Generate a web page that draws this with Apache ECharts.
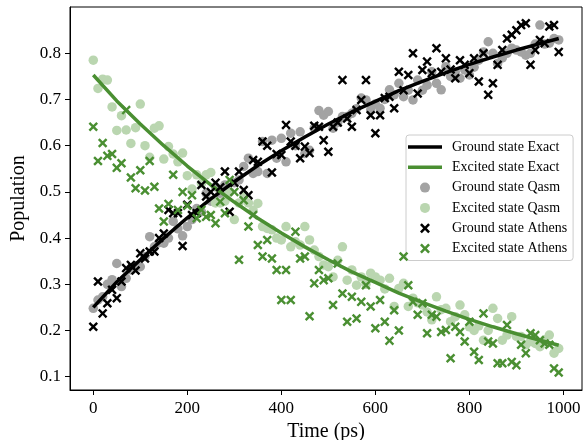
<!DOCTYPE html>
<html>
<head>
<meta charset="utf-8">
<script src="https://cdn.jsdelivr.net/npm/echarts@6/dist/echarts.min.js"></script>
<style>
html,body{margin:0;padding:0;background:#fff;}
#chart{width:588px;height:440px;}
</style>
</head>
<body>
<div id="chart"></div>
<script>
// ---- data ----
const times = Array.from({length: 100}, (_, i) => i * 10); // 0..990 ps sample times
const exactTimes = [0,50,100,150,200,250,300,350,400,450,500,550,600,650,700,750,800,850,900,950,990];
const groundExact = [0.25,0.305,0.353,0.40,0.444,0.485,0.522,0.557,0.589,0.619,0.647,0.673,0.696,0.719,0.739,0.758,0.776,0.792,0.807,0.821,0.832];
const excitedExact = [0.753,0.697,0.647,0.60,0.556,0.515,0.478,0.443,0.411,0.381,0.353,0.327,0.304,0.281,0.261,0.242,0.224,0.208,0.193,0.179,0.168];

const groundQasm = [
0.248,0.266,0.273,0.300,0.310,0.345,0.295,0.313,0.331,0.340,
0.338,0.360,0.403,0.381,0.390,0.389,0.400,0.436,0.420,0.405,
0.425,0.440,0.464,0.457,0.497,0.480,0.511,0.497,0.515,0.500,
0.520,0.526,0.555,0.573,0.540,0.544,0.609,0.540,0.612,0.573,
0.616,0.565,0.627,0.600,0.630,0.583,0.590,0.638,0.676,0.666,
0.674,0.638,0.650,0.663,0.663,0.670,0.680,0.703,0.699,0.677,
0.690,0.681,0.700,0.721,0.710,0.735,0.706,0.720,0.699,0.742,
0.720,0.731,0.760,0.735,0.721,0.771,0.750,0.760,0.746,0.764,
0.753,0.770,0.785,0.803,0.825,0.800,0.778,0.790,0.800,0.811,
0.807,0.803,0.796,0.800,0.820,0.861,0.820,0.822,0.832,0.829];

const excitedQasm = [
0.785,0.724,0.744,0.742,0.684,0.633,0.665,0.634,0.605,0.639,
0.690,0.600,0.575,0.638,0.643,0.571,0.598,0.582,0.565,0.584,
0.535,0.506,0.537,0.518,0.537,0.542,0.476,0.476,0.480,0.500,
0.440,0.476,0.493,0.476,0.460,0.475,0.425,0.421,0.418,0.400,
0.396,0.425,0.381,0.392,0.385,0.425,0.396,0.374,0.360,0.342,
0.338,0.316,0.352,0.381,0.309,0.331,0.298,0.316,0.300,0.324,
0.316,0.309,0.290,0.313,0.252,0.291,0.302,0.252,0.270,0.260,
0.255,0.240,0.223,0.273,0.245,0.248,0.219,0.230,0.255,0.234,
0.208,0.200,0.210,0.179,0.200,0.248,0.226,0.179,0.190,0.230,
0.187,0.187,0.169,0.176,0.172,0.165,0.180,0.190,0.151,0.161];

const groundAthens = [
0.208,0.306,0.237,0.259,0.288,0.270,0.306,0.335,0.342,0.330,
0.367,0.356,0.371,0.371,0.400,0.410,0.461,0.454,0.454,0.383,
0.472,0.450,0.454,0.515,0.490,0.500,0.520,0.510,0.544,0.457,
0.520,0.544,0.504,0.493,0.569,0.565,0.609,0.600,0.542,0.582,
0.580,0.645,0.609,0.600,0.573,0.598,0.584,0.643,0.641,0.612,
0.587,0.641,0.650,0.742,0.659,0.641,0.677,0.699,0.742,0.666,
0.627,0.666,0.703,0.706,0.681,0.760,0.720,0.753,0.800,0.713,
0.764,0.782,0.757,0.811,0.760,0.789,0.765,0.746,0.785,0.775,
0.757,0.789,0.739,0.800,0.710,0.735,0.775,0.807,0.832,0.840,
0.850,0.861,0.865,0.775,0.807,0.829,0.822,0.858,0.861,0.803];

const excitedAthens = [
0.641,0.567,0.606,0.578,0.582,0.552,0.562,0.677,0.531,0.508,
0.547,0.503,0.567,0.511,0.464,0.436,0.474,0.537,0.461,0.500,
0.470,0.493,0.443,0.461,0.446,0.450,0.432,0.479,0.454,0.526,
0.500,0.353,0.482,0.425,0.450,0.385,0.360,0.396,0.356,0.331,
0.266,0.331,0.266,0.414,0.356,0.360,0.231,0.302,0.331,0.309,
0.313,0.255,0.345,0.280,0.219,0.273,0.226,0.262,0.298,0.252,
0.205,0.266,0.219,0.178,0.244,0.200,0.360,0.298,0.262,0.234,
0.259,0.194,0.234,0.230,0.197,0.201,0.140,0.208,0.197,0.176,
0.219,0.154,0.136,0.237,0.176,0.172,0.129,0.129,0.212,0.132,
0.125,0.169,0.151,0.194,0.190,0.179,0.172,0.169,0.118,0.109];

const xTicks = [0,200,400,600,800,1000];
const yTicks = [0.1,0.2,0.3,0.4,0.5,0.6,0.7,0.8];

// ---- chart ----
const FONT = '"Liberation Serif", "DejaVu Serif", serif';
const X_PATH = 'path://M0,1.8L1.8,0L5,3.2L8.2,0L10,1.8L6.8,5L10,8.2L8.2,10L5,6.8L1.8,10L0,8.2L3.2,5Z';
const LINE_ICON = 'path://M0,0L34,0L34,3.5L0,3.5Z';
const GREEN = '#4a8f32';
const LIGHTGREEN = '#bad6b0';
const GRAY = '#a3a3a3';

const pair = (xs, ys) => xs.map((x, i) => [x, ys[i]]);

const chart = echarts.init(document.getElementById('chart'), null, {renderer: 'canvas'});
chart.setOption({
  animation: false,
  backgroundColor: '#fff',
  textStyle: {fontFamily: FONT},
  grid: {left: 70, top: 7, width: 512, height: 383, containLabel: false, outerBoundsMode: 'none',
    show: true, borderColor: '#000', borderWidth: 1, backgroundColor: 'transparent'},
  xAxis: {
    type: 'value', min: -49.5, max: 1039.5,
    name: 'Time (ps)', nameLocation: 'middle', nameGap: 30,
    nameTextStyle: {fontFamily: FONT, fontSize: 20, color: '#000'},
    axisLine: {show: true, onZero: false, lineStyle: {color: '#000', width: 1}},
    axisTick: {show: true, length: 5, lineStyle: {color: '#000'}, customValues: xTicks},
    axisLabel: {fontFamily: FONT, fontSize: 17, color: '#000', margin: 10, customValues: xTicks,
      formatter: v => String(Math.round(v))},
    splitLine: {show: false}
  },
  yAxis: {
    type: 'value', min: 0.0712, max: 0.9002,
    name: 'Population', nameLocation: 'middle', nameGap: 36, nameRotate: 90,
    nameTextStyle: {fontFamily: FONT, fontSize: 20, color: '#000'},
    axisLine: {show: true, onZero: false, lineStyle: {color: '#000', width: 1}},
    axisTick: {show: true, length: 5, lineStyle: {color: '#000'}, customValues: yTicks},
    axisLabel: {fontFamily: FONT, fontSize: 17, color: '#000', margin: 9, customValues: yTicks,
      formatter: v => v.toFixed(1)},
    splitLine: {show: false}
  },
  legend: {
    orient: 'vertical', left: 406, top: 135,
    itemWidth: 34, itemHeight: 10, itemGap: 6.3,
    padding: [5, 6, 5, 2],
    backgroundColor: 'rgba(255,255,255,0.8)',
    borderColor: '#cccccc', borderWidth: 1, borderRadius: 3,
    textStyle: {fontFamily: FONT, fontSize: 14, color: '#000', padding: [0, 0, 0, 5]},
    data: [
      {name: 'Ground state Exact', icon: LINE_ICON, itemStyle: {color: '#000'}},
      {name: 'Excited state Exact', icon: LINE_ICON, itemStyle: {color: GREEN}},
      {name: 'Ground state Qasm'},
      {name: 'Excited state Qasm'},
      {name: 'Ground state Athens'},
      {name: 'Excited state Athens'}
    ]
  },
  series: [
    {name: 'Ground state Qasm', type: 'scatter', z: 2, symbol: 'circle', symbolSize: 9.5,
      itemStyle: {color: GRAY, opacity: 1}, data: pair(times, groundQasm)},
    {name: 'Excited state Qasm', type: 'scatter', z: 2, symbol: 'circle', symbolSize: 9.5,
      itemStyle: {color: LIGHTGREEN, opacity: 1}, data: pair(times, excitedQasm)},
    {name: 'Ground state Exact', type: 'line', z: 3, symbol: 'none', showSymbol: false,
      lineStyle: {color: '#000', width: 3.5}, itemStyle: {color: '#000'}, data: pair(exactTimes, groundExact)},
    {name: 'Excited state Exact', type: 'line', z: 3, symbol: 'none', showSymbol: false,
      lineStyle: {color: GREEN, width: 3.5}, itemStyle: {color: GREEN}, data: pair(exactTimes, excitedExact)},
    {name: 'Ground state Athens', type: 'scatter', z: 4, symbol: X_PATH, symbolSize: 9.5,
      itemStyle: {color: '#000', opacity: 1}, data: pair(times, groundAthens)},
    {name: 'Excited state Athens', type: 'scatter', z: 4, symbol: X_PATH, symbolSize: 9.5,
      itemStyle: {color: GREEN, opacity: 1}, data: pair(times, excitedAthens)}
  ]
});
</script>
</body>
</html>
